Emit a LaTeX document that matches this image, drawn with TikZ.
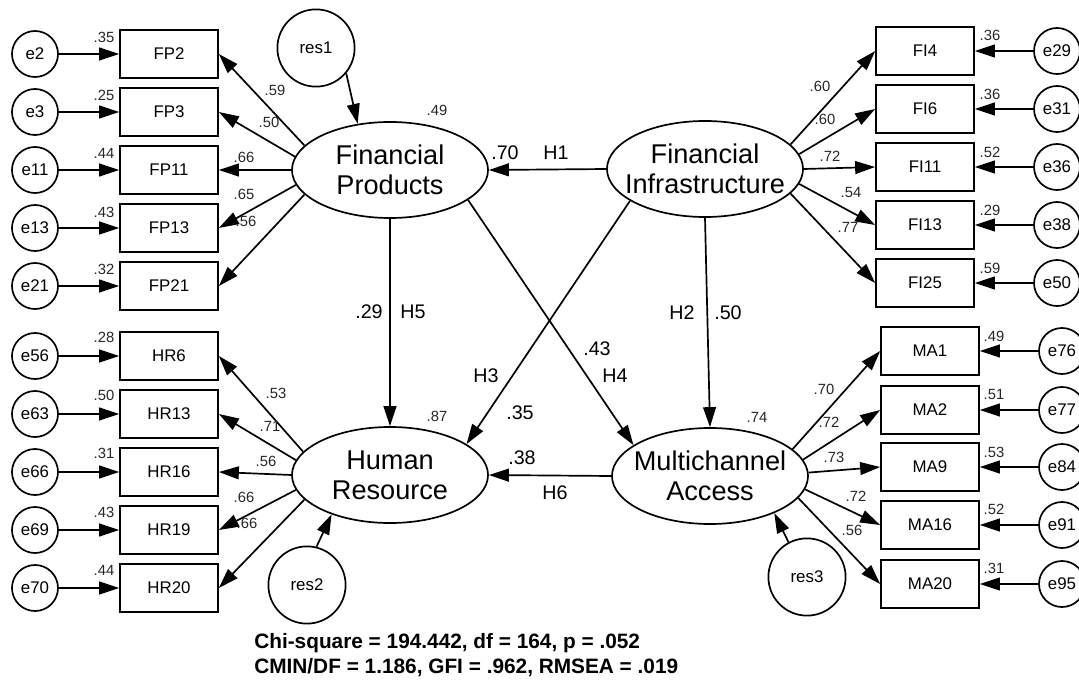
\documentclass[tikz,border=0pt]{standalone}
\usepackage{fontspec}
\setmainfont{Liberation Sans}
\usetikzlibrary{positioning,shapes.geometric,arrows.meta}

\begin{document}
\begin{tikzpicture}[x=0.025cm,y=-0.025cm]
  \tikzstyle{latent}=[ellipse, draw, line width=1.2pt, minimum width=4.9cm,
    minimum height=2.4cm, inner sep=0pt]
  \tikzstyle{lattext}=[align=center, font=\fontsize{19.3}{21.3}\selectfont]
  \tikzstyle{obs}=[rectangle, draw, line width=1.2pt, minimum width=2.45cm,
    minimum height=1.2cm, inner sep=0pt, font=\fontsize{12}{14}\selectfont]
  \tikzstyle{err}=[circle, draw, line width=1.2pt, minimum size=1.15cm,
    inner sep=0pt, font=\fontsize{12}{14}\selectfont]
  \tikzstyle{res}=[circle, draw, line width=1.2pt, minimum size=1.93cm,
    inner sep=0pt, font=\fontsize{12}{14}\selectfont]
  \tikzstyle{lbl}=[inner sep=0pt, text=black!85, font=\fontsize{10.5}{12}\selectfont]
  \tikzstyle{plbl}=[inner sep=0pt, font=\fontsize{14}{16}\selectfont]
  \tikzstyle{arr}=[-{Triangle[length=0.5cm,width=0.32cm]}, line width=1.2pt]
  \useasboundingbox (0,0) rectangle (1079,689);

  % latent variables
  \node[latent] (fp) at (390,170) {};
  \node[lattext] (fp-t) at (fp) {Financial\\Products};
  \node[latent] (fi) at (705,169) {};
  \node[lattext] (fi-t) at (fi) {Financial\\Infrastructure};
  \node[latent] (hr) at (390,475) {};
  \node[lattext] (hr-t) at (hr) {Human\\Resource};
  \node[latent] (ma) at (710,476) {};
  \node[lattext] (ma-t) at (ma) {Multichannel\\Access};

  % residuals
  \node[res] (res1) at (316,48) {res1};
  \node[res] (res2) at (307,585) {res2};
  \node[res] (res3) at (807,577) {res3};

  % Financial Products indicators
  \node[err] (e2) at (35,54) {e2};
  \node[err] (e3) at (35,112) {e3};
  \node[err] (e11) at (35,170) {e11};
  \node[err] (e13) at (35,228) {e13};
  \node[err] (e21) at (35,286) {e21};
  \node[obs] (fp2) at (169,54) {FP2};
  \node[obs] (fp3) at (169,112) {FP3};
  \node[obs] (fp11) at (169,170) {FP11};
  \node[obs] (fp13) at (169,228) {FP13};
  \node[obs] (fp21) at (169,286) {FP21};

  % Human Resource indicators
  \node[err] (e56) at (35,356) {e56};
  \node[err] (e63) at (35,414) {e63};
  \node[err] (e66) at (35,472) {e66};
  \node[err] (e69) at (35,530) {e69};
  \node[err] (e70) at (35,588) {e70};
  \node[obs] (hr6) at (169,356) {HR6};
  \node[obs] (hr13) at (169,414) {HR13};
  \node[obs] (hr16) at (169,472) {HR16};
  \node[obs] (hr19) at (169,530) {HR19};
  \node[obs] (hr20) at (169,588) {HR20};

  % Financial Infrastructure indicators
  \node[obs] (fi4) at (925,51) {FI4};
  \node[obs] (fi6) at (925,109) {FI6};
  \node[obs] (fi11) at (925,167) {FI11};
  \node[obs] (fi13) at (925,225) {FI13};
  \node[obs] (fi25) at (925,283) {FI25};
  \node[err] (e29) at (1057,51) {e29};
  \node[err] (e31) at (1057,109) {e31};
  \node[err] (e36) at (1057,167) {e36};
  \node[err] (e38) at (1057,225) {e38};
  \node[err] (e50) at (1057,283) {e50};

  % Multichannel Access indicators
  \node[obs] (ma1) at (930,351) {MA1};
  \node[obs] (ma2) at (930,410) {MA2};
  \node[obs] (ma9) at (930,467) {MA9};
  \node[obs] (ma16) at (930,525) {MA16};
  \node[obs] (ma20) at (930,584) {MA20};
  \node[err] (e76) at (1062,351) {e76};
  \node[err] (e77) at (1062,410) {e77};
  \node[err] (e84) at (1062,467) {e84};
  \node[err] (e91) at (1062,525) {e91};
  \node[err] (e95) at (1062,584) {e95};

  % structural paths
  \path
  (fi.west) edge [arr] (fp.east)
  (fp.south) edge [arr] (hr.north)
  (fi.south) edge [arr] (ma.north)
  (fp.339) edge [arr] (ma.158)
  (fi.203) edge [arr] (hr.22)
  (ma.west) edge [arr] (hr.east)
  (res1.320) edge [arr] (fp.125)
  (res2.76) edge [arr] (hr.214)
  (res3.118) edge [arr] (ma.330);

  % loadings
  \path
  (fp.164) edge [arr] (fp2.east)
  (fp.172) edge [arr] (fp3.east)
  (fp.180) edge [arr] (fp11.east)
  (fp.189) edge [arr] (fp13.east)
  (fp.196) edge [arr] (fp21.east)
  (hr.165) edge [arr] (hr6.east)
  (hr.171) edge [arr] (hr13.east)
  (hr.180) edge [arr] (hr16.east)
  (hr.189) edge [arr] (hr19.east)
  (hr.196) edge [arr] (hr20.east)
  (fi.16) edge [arr] (fi4.west)
  (fi.9) edge [arr] (fi6.west)
  (fi.0) edge [arr] (fi11.west)
  (fi.-9) edge [arr] (fi13.west)
  (fi.-16) edge [arr] (fi25.west)
  (ma.18) edge [arr] (ma1.west)
  (ma.10) edge [arr] (ma2.west)
  (ma.2) edge [arr] (ma9.west)
  (ma.-8) edge [arr] (ma16.west)
  (ma.-14) edge [arr] (ma20.west);

  % errors
  \path
  (e2) edge [arr] (fp2) (e3) edge [arr] (fp3) (e11) edge [arr] (fp11)
  (e13) edge [arr] (fp13) (e21) edge [arr] (fp21)
  (e56) edge [arr] (hr6) (e63) edge [arr] (hr13) (e66) edge [arr] (hr16)
  (e69) edge [arr] (hr19) (e70) edge [arr] (hr20)
  (e29) edge [arr] (fi4) (e31) edge [arr] (fi6) (e36) edge [arr] (fi11)
  (e38) edge [arr] (fi13) (e50) edge [arr] (fi25)
  (e76) edge [arr] (ma1) (e77) edge [arr] (ma2) (e84) edge [arr] (ma9)
  (e91) edge [arr] (ma16) (e95) edge [arr] (ma20);

  % squared multiple correlations
  \node[lbl] (r-fp2) at (104,37) {.35};
  \node[lbl] (r-fp3) at (104,95) {.25};
  \node[lbl] (r-fp11) at (104,153) {.44};
  \node[lbl] (r-fp13) at (104,212) {.43};
  \node[lbl] (r-fp21) at (104,269) {.32};
  \node[lbl] (r-hr6) at (104,337) {.28};
  \node[lbl] (r-hr13) at (104,395) {.50};
  \node[lbl] (r-hr16) at (104,453) {.31};
  \node[lbl] (r-hr19) at (104,512) {.43};
  \node[lbl] (r-hr20) at (104,570) {.44};
  \node[lbl] (r-fi4) at (990,35) {.36};
  \node[lbl] (r-fi6) at (990,94) {.36};
  \node[lbl] (r-fi11) at (990,152) {.52};
  \node[lbl] (r-fi13) at (990,210) {.29};
  \node[lbl] (r-fi25) at (990,268) {.59};
  \node[lbl] (r-ma1) at (994,336) {.49};
  \node[lbl] (r-ma2) at (994,394) {.51};
  \node[lbl] (r-ma9) at (994,452) {.53};
  \node[lbl] (r-ma16) at (994,509) {.52};
  \node[lbl] (r-ma20) at (994,568) {.31};
  \node[lbl] (r-fp) at (437,110) {.49};
  \node[lbl] (r-hr) at (437,416) {.87};
  \node[lbl] (r-ma) at (757,417) {.74};

  % loading estimates
  \node[lbl] (l-fp2) at (275,90) {.59};
  \node[lbl] (l-fp3) at (269,122) {.50};
  \node[lbl] (l-fp11) at (244,157) {.66};
  \node[lbl] (l-fp13) at (244,194) {.65};
  \node[lbl] (l-fp21) at (246,221) {.56};
  \node[lbl] (l-hr6) at (276,393) {.53};
  \node[lbl] (l-hr13) at (270,426) {.71};
  \node[lbl] (l-hr16) at (266,461) {.56};
  \node[lbl] (l-hr19) at (244,497) {.66};
  \node[lbl] (l-hr20) at (247,523) {.66};
  \node[lbl] (l-fi4) at (820,86) {.60};
  \node[lbl] (l-fi6) at (825,119) {.60};
  \node[lbl] (l-fi11) at (830,156) {.72};
  \node[lbl] (l-fi13) at (851,192) {.54};
  \node[lbl] (l-fi25) at (848,227) {.77};
  \node[lbl] (l-ma1) at (824,389) {.70};
  \node[lbl] (l-ma2) at (829,422) {.72};
  \node[lbl] (l-ma9) at (834,457) {.73};
  \node[lbl] (l-ma16) at (856,496) {.72};
  \node[lbl] (l-ma20) at (852,530) {.56};

  % path estimates and hypotheses
  \node[plbl] (b1) at (505,153) {.70};
  \node[plbl] (h1) at (556,153) {H1};
  \node[plbl] (b2) at (728,313) {.50};
  \node[plbl] (h2) at (682,313) {H2};
  \node[plbl] (b3) at (520,413) {.35};
  \node[plbl] (h3) at (486,376) {H3};
  \node[plbl] (b4) at (597,349) {.43};
  \node[plbl] (h4) at (615,376) {H4};
  \node[plbl] (b5) at (369,312) {.29};
  \node[plbl] (h5) at (413,312) {H5};
  \node[plbl] (b6) at (522,458) {.38};
  \node[plbl] (h6) at (555,493) {H6};

  % fit indices
  \node[anchor=base west, inner sep=0pt, font=\bfseries\fontsize{14.8}{17}\selectfont]
    (fit1) at (254,648) {Chi-square = 194.442, df = 164, p = .052};
  \node[anchor=base west, inner sep=0pt, font=\bfseries\fontsize{14.8}{17}\selectfont]
    (fit2) at (254,673) {CMIN/DF = 1.186, GFI = .962, RMSEA = .019};
\end{tikzpicture}
\end{document}
